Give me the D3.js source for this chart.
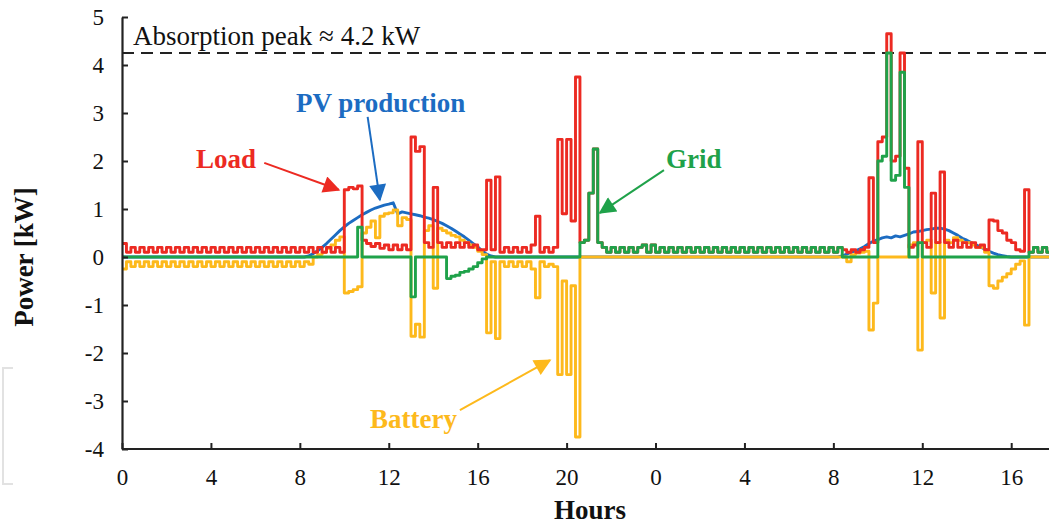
<!DOCTYPE html>
<html>
<head>
<meta charset="utf-8">
<script src="https://d3js.org/d3.v7.min.js"></script>
<style>
  body { margin: 0; background: #fff; }
  text { font-family: "Liberation Serif", "Times New Roman", serif; }
</style>
</head>
<body>
<div id="chart"></div>
<script>
// one sample every 0.2 h, two days in a row (0 .. 41.8 h)
var STEP = 0.2;

// Load [kW]
var load = [
  0.28,0.1,0.2,0.1,0.2,0.1,0.2,0.1,0.2,0.1,      // 0-2
  0.2,0.1,0.2,0.1,0.2,0.1,0.2,0.1,0.2,0.1,       // 2-4
  0.2,0.1,0.2,0.1,0.2,0.1,0.2,0.1,0.2,0.1,       // 4-6
  0.2,0.1,0.2,0.1,0.2,0.1,0.2,0.1,0.2,0.1,       // 6-8
  0.2,0.1,0.2,0.1,0.2,0.1,0.2,0.1,0.2,0.1,       // 8-10
  1.4,1.45,1.42,1.48,0.35,0.28,0.22,0.28,0.18,0.25, // 10-12
  0.15,0.25,0.15,0.25,0.15,2.5,2.2,2.3,0.3,0.2,  // 12-14
  1.45,0.3,0.2,0.3,0.2,0.3,0.2,0.3,0.2,0.25,     // 14-16
  0.15,0.15,1.6,0.15,1.67,0.1,0.2,0.1,0.2,0.1,   // 16-18
  0.2,0.1,0.25,0.85,0.1,0.2,0.1,0.2,2.45,0.9,    // 18-20
  2.45,0.75,3.75,0.3,0.35,1.33,2.25,0.3,0.2,0.1, // 20-22
  0.2,0.1,0.2,0.1,0.2,0.1,0.2,0.25,0.1,0.25,     // 22-24
  0.1,0.2,0.1,0.2,0.1,0.2,0.1,0.2,0.1,0.2,       // 0-2 (day 2)
  0.1,0.2,0.1,0.2,0.1,0.2,0.1,0.2,0.1,0.2,       // 2-4
  0.1,0.2,0.1,0.2,0.1,0.2,0.1,0.2,0.1,0.2,       // 4-6
  0.1,0.2,0.1,0.2,0.1,0.2,0.1,0.2,0.1,0.2,       // 6-8
  0.1,0.2,0.15,0.1,0.15,0.1,0.15,0.2,1.65,0.3,   // 8-10
  2.4,2.5,4.65,2.0,2.1,4.25,1.85,0.2,0.25,2.4,   // 10-12
  0.3,0.2,1.33,0.3,1.77,0.3,0.2,0.35,0.2,0.3,    // 12-14
  0.2,0.3,0.2,0.25,0.15,0.77,0.75,0.55,0.5,0.35, // 14-16
  0.3,0.15,0.12,1.4,0.1,0.2,0.1,0.2,0.1,0.25     // 16-18
];

// PV production [kW]
var pv = [
  0,0,0,0,0,0,0,0,0,0,
  0,0,0,0,0,0,0,0,0,0,
  0,0,0,0,0,0,0,0,0,0,
  0,0,0,0,0,0,0,0,0,0,
  0,0,0.02,0.07,0.13,0.2,0.28,0.37,0.46,0.55,
  0.63,0.7,0.76,0.82,0.88,0.93,0.98,1.02,1.05,1.08,
  1.1,1.13,0.9,0.94,0.92,0.9,0.88,0.86,0.83,0.81,
  0.78,0.74,0.7,0.65,0.6,0.54,0.48,0.42,0.35,0.28,
  0.21,0.13,0.06,0.02,0,0,0,0,0,0,
  0,0,0,0,0,0,0,0,0,0,
  0,0,0,0,0,0,0,0,0,0,
  0,0,0,0,0,0,0,0,0,0,
  0,0,0,0,0,0,0,0,0,0,
  0,0,0,0,0,0,0,0,0,0,
  0,0,0,0,0,0,0,0,0,0,
  0,0,0,0,0,0,0,0,0,0,
  0,0,0.02,0.06,0.1,0.13,0.17,0.22,0.28,0.33,
  0.36,0.4,0.42,0.4,0.44,0.42,0.45,0.48,0.52,0.53,
  0.55,0.57,0.58,0.6,0.6,0.58,0.55,0.5,0.45,0.39,
  0.35,0.3,0.26,0.21,0.17,0.12,0.08,0.05,0.03,0.01,
  0,0,0,0,0,0,0,0,0,0
];

// Grid [kW]
var grid = [
  0,0,0,0,0,0,0,0,0,0,
  0,0,0,0,0,0,0,0,0,0,
  0,0,0,0,0,0,0,0,0,0,
  0,0,0,0,0,0,0,0,0,0,
  0,0,0,0,0,0,0,0,0,0,
  0,0,0,0.62,0,0,0,0,0,0,
  0,0,0,0,0,-0.83,0,0,0,0,
  0,0,0,-0.45,-0.4,-0.38,-0.32,-0.3,-0.25,-0.2,
  -0.12,-0.04,0,0,0,0,0,0,0,0,
  0,0,0,0,0,0,0,0,0,0,
  0,0,0,0.3,0.35,1.33,2.25,0.3,0.2,0.1,
  0.2,0.1,0.2,0.1,0.2,0.1,0.2,0.25,0.1,0.25,
  0.1,0.2,0.1,0.2,0.1,0.2,0.1,0.2,0.1,0.2,
  0.1,0.2,0.1,0.2,0.1,0.2,0.1,0.2,0.1,0.2,
  0.1,0.2,0.1,0.2,0.1,0.2,0.1,0.2,0.1,0.2,
  0.1,0.2,0.1,0.2,0.1,0.2,0.1,0.2,0.1,0.2,
  0.1,0.2,0,0,0,0,0,0,0,0,
  2.0,2.1,4.25,1.6,1.7,3.85,1.45,0,0,0.3,
  0,0,0,0,0,0,0,0,0,0,
  0,0,0,0,0,0,0,0,0,0,
  0,0,0,0,0.1,0.2,0.1,0.2,0.1,0.25
];

// Battery [kW]
var battery = [
  -0.25,-0.1,-0.2,-0.1,-0.2,-0.1,-0.2,-0.1,-0.2,-0.1,
  -0.2,-0.1,-0.2,-0.1,-0.2,-0.1,-0.2,-0.1,-0.2,-0.1,
  -0.2,-0.1,-0.2,-0.1,-0.2,-0.1,-0.2,-0.1,-0.2,-0.1,
  -0.2,-0.1,-0.2,-0.1,-0.2,-0.1,-0.2,-0.1,-0.2,-0.1,
  -0.2,-0.1,-0.15,0,0.05,0.1,0.18,0.25,0.35,0.42,
  -0.75,-0.72,-0.68,-0.62,0.5,0.62,0.75,0.4,0.85,0.9,
  0.92,0.98,0.65,0.82,0.78,-1.65,-1.4,-1.67,0.55,0.65,
  -0.65,0.6,0.55,0.5,0.45,0.42,0.35,0.3,0.25,0.2,
  0.12,0.05,-1.58,-0.1,-1.7,-0.1,-0.2,-0.1,-0.2,-0.1,
  -0.2,-0.1,-0.25,-0.85,-0.1,-0.2,-0.15,-0.2,-2.45,-0.5,
  -2.45,-0.6,-3.75,0,0,0,0,0,0,0,
  0,0,0,0,0,0,0,0,0,0,
  0,0,0,0,0,0,0,0,0,0,
  0,0,0,0,0,0,0,0,0,0,
  0,0,0,0,0,0,0,0,0,0,
  0,0,0,0,0,0,0,0,0,0,
  0,0,0,-0.1,0.05,0.08,0.1,0.12,-1.52,-0.96,
  0,0,0,0,0,0,0,0.25,0.3,-1.94,
  0.3,0.35,-0.75,0.3,-1.27,0.35,0.3,0.4,0.35,0.3,
  0.3,0.25,0.2,0.2,0.1,-0.6,-0.65,-0.5,-0.42,-0.35,
  -0.25,-0.15,-0.08,-1.42,0,0,0,0,0,0
];

var xTicks = [0, 4, 8, 12, 16, 20, 24, 28, 32, 36, 40];
var yTicks = [-4, -3, -2, -1, 0, 1, 2, 3, 4, 5];
var peakValue = 4.25;
var peakLabel = "Absorption peak \u2248 4.2 kW";

var colors = { load: "#ec2a22", pv: "#1c6cc2", grid: "#1fa24a", battery: "#fdb91c" };

var width = 1049, height = 524;

var svg = d3.select("#chart").append("svg")
    .attr("width", width)
    .attr("height", height);

var x = d3.scaleLinear().domain([0, 41.7]).range([122, 1049]);
var y = d3.scaleLinear().domain([-4, 5]).range([449, 17]);

// markers for arrows
var defs = svg.append("defs");
Object.keys(colors).forEach(function(k) {
  defs.append("marker")
      .attr("id", "arr-" + k)
      .attr("viewBox", "0 0 10 10")
      .attr("refX", 9).attr("refY", 5)
      .attr("markerUnits", "userSpaceOnUse")
      .attr("markerWidth", 22).attr("markerHeight", 17)
      .attr("orient", "auto")
    .append("path")
      .attr("d", "M0,0 L10,5 L0,10 z")
      .attr("fill", colors[k]);
});
defs.append("clipPath").attr("id", "plot")
  .append("rect").attr("x", 122).attr("y", 0).attr("width", 1049 - 122).attr("height", 452);

// faint page bracket at far left
svg.append("path")
    .attr("d", "M13,368 L3,368 L3,484 L13,484")
    .attr("fill", "none").attr("stroke", "#e2e2e2").attr("stroke-width", 2);

// dashed absorption peak
svg.append("line")
    .attr("x1", x(0)).attr("x2", 1049)
    .attr("y1", y(peakValue)).attr("y2", y(peakValue))
    .attr("stroke", "#222").attr("stroke-width", 2.2)
    .attr("stroke-dasharray", "12,7");

svg.append("text")
    .attr("x", x(0.5)).attr("y", y(4.42))
    .attr("font-size", 27)
    .attr("fill", "#111")
    .text(peakLabel);

// series
var step = d3.line()
    .x(function(d, i) { return x(i * STEP); })
    .y(function(d) { return y(d); })
    .curve(d3.curveStepAfter);
var smooth = d3.line()
    .x(function(d, i) { return x(i * STEP); })
    .y(function(d) { return y(d); });

var plot = svg.append("g").attr("clip-path", "url(#plot)");
[
  { data: pv, gen: smooth, color: colors.pv },
  { data: battery, gen: step, color: colors.battery },
  { data: load, gen: step, color: colors.load },
  { data: grid, gen: step, color: colors.grid }
].forEach(function(s) {
  plot.append("path")
      .attr("d", s.gen(s.data))
      .attr("fill", "none")
      .attr("stroke", s.color)
      .attr("stroke-width", 2.9)
      .attr("stroke-linejoin", "round");
});

// axes
var yAxis = svg.append("g")
    .attr("transform", "translate(" + x(0) + ",0)")
    .call(d3.axisLeft(y).tickValues(yTicks).tickSize(-6).tickSizeOuter(0).tickPadding(18)
      .tickFormat(function(d) { return String(d); }));
var xAxis = svg.append("g")
    .attr("transform", "translate(0," + y(-4) + ")")
    .call(d3.axisBottom(x).tickValues(xTicks).tickSize(-6).tickSizeOuter(0).tickPadding(20)
      .tickFormat(function(d) { return String(d % 24); }));
[yAxis, xAxis].forEach(function(a) {
  a.select(".domain").attr("stroke", "#222").attr("stroke-width", 2.2);
  a.selectAll(".tick line").attr("stroke", "#222").attr("stroke-width", 2);
  a.selectAll(".tick text")
      .attr("font-family", "Liberation Serif, serif")
      .attr("font-size", 23)
      .attr("fill", "#111");
});
xAxis.select(".domain").attr("d", "M" + x(0) + ",0H1049");

svg.append("text")
    .attr("transform", "translate(33," + y(0) + ") rotate(-90)")
    .attr("text-anchor", "middle")
    .attr("font-size", 27).attr("font-weight", "bold")
    .attr("fill", "#111")
    .text("Power [kW]");
svg.append("text")
    .attr("x", 590).attr("y", 519)
    .attr("text-anchor", "middle")
    .attr("font-size", 27).attr("font-weight", "bold")
    .attr("fill", "#111")
    .text("Hours");

// annotations (hours, kW)
var notes = [
  { key: "load", text: "Load", at: [3.33, 1.85], from: [6.4, 1.96], to: [9.75, 1.4] },
  { key: "pv", text: "PV production", at: [7.83, 3.02], from: [11.05, 2.92], to: [11.6, 1.19] },
  { key: "grid", text: "Grid", at: [24.47, 1.85], from: [24.38, 1.81], to: [21.5, 0.92] },
  { key: "battery", text: "Battery", at: [11.16, -3.56], from: [15.2, -3.19], to: [19.25, -2.15] }
];
notes.forEach(function(n) {
  svg.append("text")
      .attr("x", x(n.at[0])).attr("y", y(n.at[1]))
      .attr("font-size", 27).attr("font-weight", "bold")
      .attr("fill", colors[n.key])
      .text(n.text);
  svg.append("line")
      .attr("x1", x(n.from[0])).attr("y1", y(n.from[1]))
      .attr("x2", x(n.to[0])).attr("y2", y(n.to[1]))
      .attr("stroke", colors[n.key]).attr("stroke-width", 2)
      .attr("marker-end", "url(#arr-" + n.key + ")");
});
</script>
</body>
</html>
